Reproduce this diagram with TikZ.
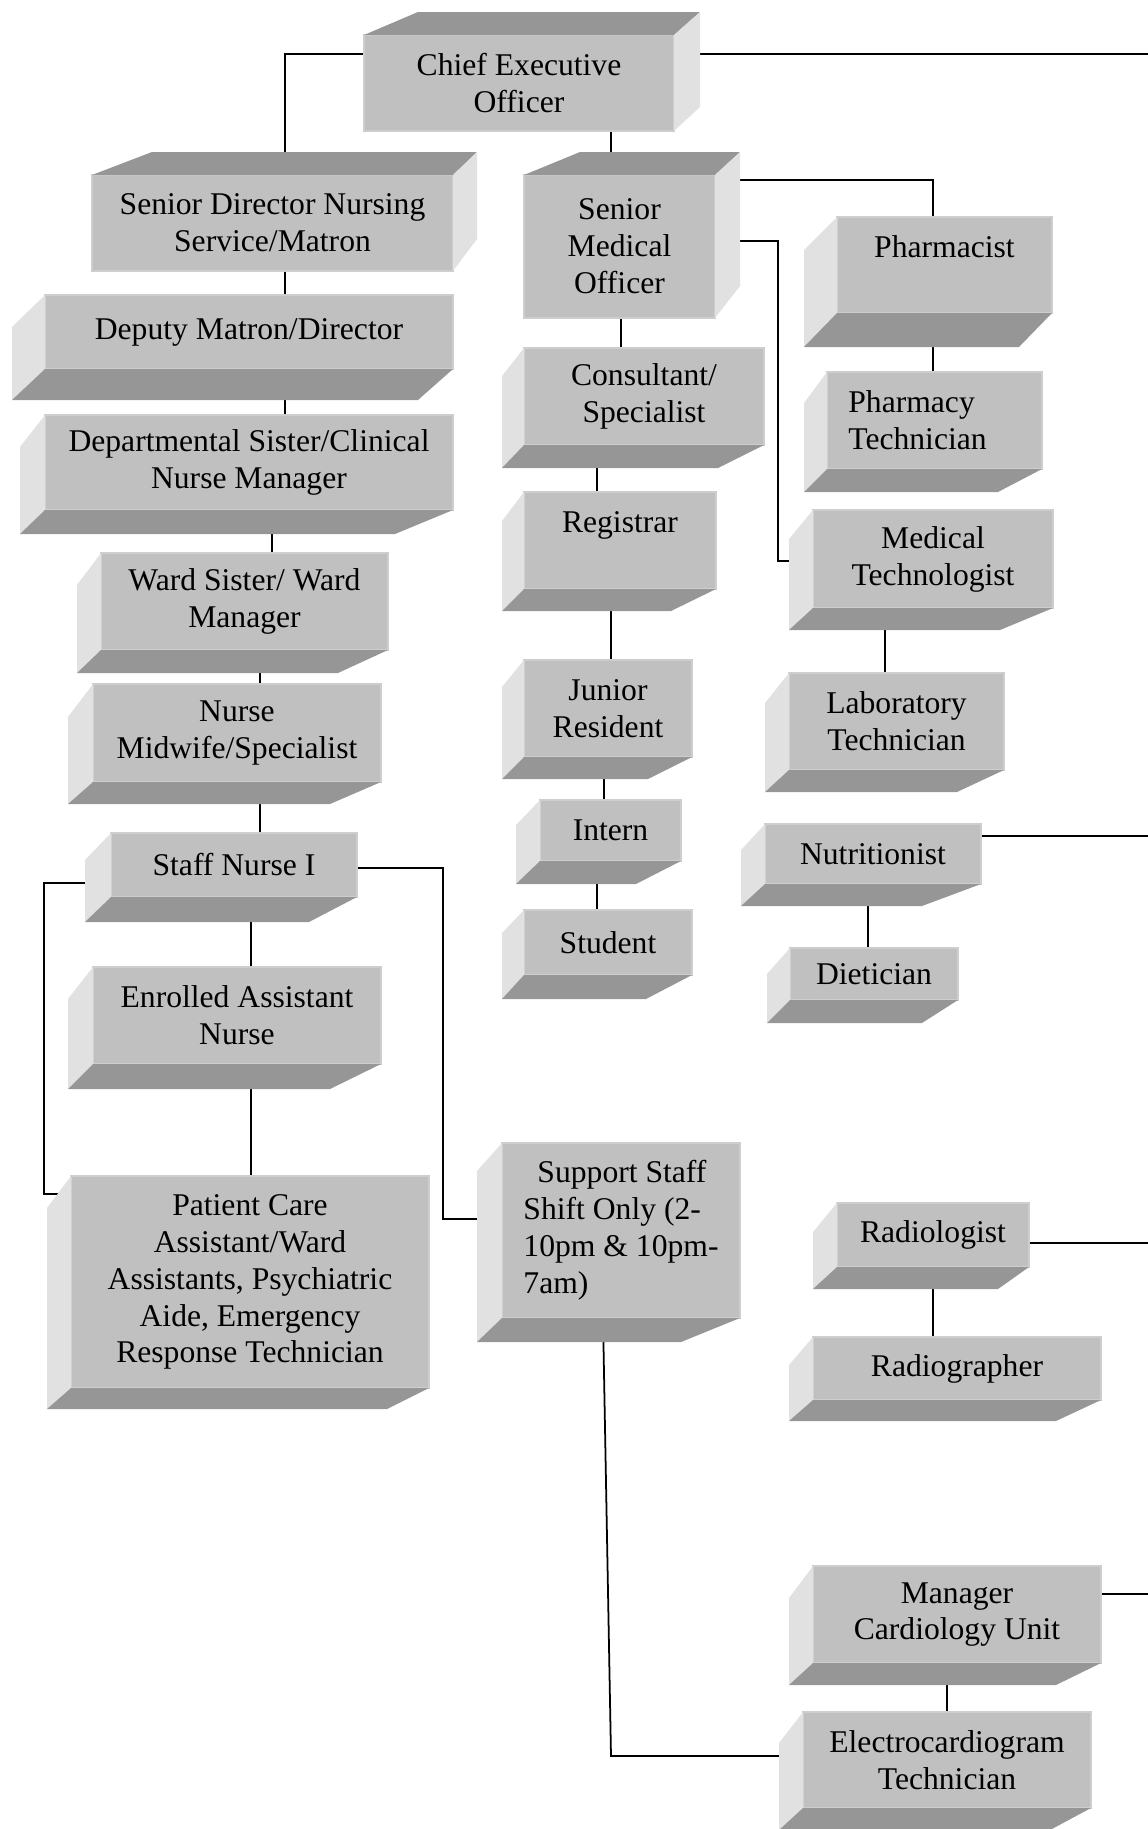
\documentclass[tikz,border=0pt]{standalone}
\usepackage{fontspec}
\setmainfont{Liberation Serif}
\usetikzlibrary{calc,backgrounds}

\definecolor{frontgray}{HTML}{C0C0C0}
\definecolor{frontedge}{HTML}{CECECE}
\definecolor{darkgray}{HTML}{969696}
\definecolor{sidegray}{HTML}{E1E1E1}

\tikzset{
  slab/.style 2 args={fill=frontgray, draw=frontedge, line width=0.6pt,
    minimum width={#1*0.02cm}, minimum height={#2*0.02cm},
    inner sep=0pt, outer sep=0pt, align=center,
    font=\fontsize{18}{21}\selectfont},
  wire/.style={line width=1pt, black},
  darkface/.style={fill=darkgray},
  sideface/.style={fill=sidegray}
}

%% faces seen below and on the left: node, dx left, dy top, dy bottom, dx right
\newcommand{\slabbl}[5]{%
  \fill[sideface] (#1.north west) -- ++(#2,#3) -- ($(#1.south west)+(#2,#4)$) -- (#1.south west) -- cycle;
  \fill[darkface] (#1.south west) -- ++(#2,#4) -- ($(#1.south east)+(#5,#4)$) -- (#1.south east) -- cycle;}
%% faces seen above and on the right
\newcommand{\slabtr}[5]{%
  \fill[darkface] (#1.north west) -- ++(#2,#3) -- ($(#1.north east)+(#5,#3)$) -- (#1.north east) -- cycle;
  \fill[sideface] (#1.north east) -- ++(#5,#3) -- ($(#1.south east)+(#5,#4)$) -- (#1.south east) -- cycle;}

\begin{document}
\begin{tikzpicture}[x=0.02cm, y=-0.02cm]
        \useasboundingbox (0,0) rectangle (1148,1829);
        %% Top
        \node[slab={310}{96}] (ceo) at (519,83) {Chief Executive\\Officer};
        \slabtr{ceo}{54}{-23}{-24}{26}
        \node[slab={361}{96}] (snd) at (272.5,223) {Senior Director Nursing\\Service/Matron};
        \slabtr{snd}{60}{-23}{-32}{24}
        \node[slab={191}{143}] (smo) at (619.5,246.5) {Senior\\Medical\\Officer};
        \slabtr{smo}{56}{-23}{-32}{25}
        %% Nursing
        \node[slab={408}{74}] (dep) at (249,332) {Deputy Matron/Director};
        \slabbl{dep}{-33}{32}{31}{-35}
        \node[slab={408}{95}] (dsc) at (249,462.5) {Departmental Sister/Clinical\\Nurse Manager};
        \slabbl{dsc}{-25}{32}{24}{-58}
        \node[slab={287}{97}] (ws) at (244.5,601.5) {Ward Sister/ Ward\\Manager};
        \slabbl{ws}{-24}{32}{23}{-50}
        \node[slab={288}{98}] (nm) at (237,733) {Nurse\\Midwife/Specialist};
        \slabbl{nm}{-25}{33}{22}{-51}
        \node[slab={246}{64}] (sn1) at (234,865) {Staff Nurse I};
        \slabbl{sn1}{-26}{27}{25}{-48}
        \node[slab={288}{97}] (ean) at (237,1015.5) {Enrolled Assistant\\Nurse};
        \slabbl{ean}{-25}{32}{25}{-51}
        \node[slab={358}{212}] (pca) at (250,1282) {Patient Care\\Assistant/Ward\\Assistants, Psychiatric\\Aide, Emergency\\Response Technician};
        \slabbl{pca}{-24}{32}{21}{-42}
        \node[slab={238}{175}, align=left] (sup) at (621,1230.5) {\hspace*{0.28cm}Support Staff\\Shift Only (2-\\10pm \& 10pm-\\7am)};
        \slabbl{sup}{-25}{28}{24}{-59}
        %% Medical
        \node[slab={240}{97}] (con) at (644,396.5) {Consultant/\\Specialist};
        \slabbl{con}{-22}{28}{23}{-46}
        \node[slab={192}{97}] (reg) at (620,540.5) {Registrar\\~};
        \slabbl{reg}{-22}{29}{22}{-45}
        \node[slab={168}{97}] (jr) at (608,708.5) {Junior\\Resident};
        \slabbl{jr}{-22}{27}{22}{-44}
        \node[slab={141}{61}] (int) at (610.5,830.5) {Intern};
        \slabbl{int}{-24}{25}{23}{-45}
        \node[slab={168}{65}] (stu) at (608,942.5) {Student};
        \slabbl{stu}{-22}{23}{24}{-46}
        %% Right column
        \node[slab={215}{96}] (pha) at (944.5,265) {Pharmacist\\~};
        \slabbl{pha}{-33}{33}{34}{-33}
        \node[slab={215}{97}, align=left] (pht) at (934.5,420.5) {Pharmacy\\Technician\hspace*{0.68cm}};
        \slabbl{pht}{-23}{31}{23}{-44}
        \node[slab={240}{98}] (mt) at (933,559) {Medical\\Technologist};
        \slabbl{mt}{-24}{29}{22}{-53}
        \node[slab={215}{97}] (lt) at (896.5,721.5) {Laboratory\\Technician};
        \slabbl{lt}{-24}{30}{22}{-47}
        \node[slab={216}{60}] (nut) at (873,854) {Nutritionist};
        \slabbl{nut}{-24}{26}{22}{-59}
        \node[slab={168}{52}] (die) at (874,974) {Dietician};
        \slabbl{die}{-23}{26}{23}{-36}
        \node[slab={192}{64}] (rad) at (933,1235) {Radiologist};
        \slabbl{rad}{-24}{29}{22}{-31}
        \node[slab={288}{63}] (rgr) at (957,1368.5) {Radiographer};
        \slabbl{rgr}{-24}{28}{21}{-45}
        \node[slab={288}{97}] (mcu) at (957,1614.5) {Manager\\Cardiology Unit};
        \slabbl{mcu}{-24}{32}{22}{-45}
        \node[slab={288}{96}] (ecg) at (947,1760) {Electrocardiogram\\Technician};
        \slabbl{ecg}{-24}{31}{22}{-41}
        %% Free ends at the right margin
        \coordinate (ceoR) at (1148,54);
        \coordinate (nutR) at (1148,836);
        \coordinate (radR) at (1148,1243);
        \coordinate (mcuR) at (1148,1594);
        %% Lines
        \begin{pgfonlayer}{background}
        \draw[wire] (ceo.west |- 0,54) -| (285,0 |- snd.north);
        \draw[wire] (ceo.east |- 0,54) -- (ceoR);
        \draw[wire] (611,0 |- ceo.south) -- (611,0 |- smo.north);
        \draw[wire] (285,0 |- snd.south) -- (285,0 |- dep.north);
        \draw[wire] (285,0 |- dep.south) -- (285,0 |- dsc.north);
        \draw[wire] (272,0 |- dsc.south) -- (272,0 |- ws.north);
        \draw[wire] (260,0 |- ws.south) -- (260,0 |- nm.north);
        \draw[wire] (260,0 |- nm.south) -- (260,0 |- sn1.north);
        \draw[wire] (251,0 |- sn1.south) -- (251,0 |- ean.north);
        \draw[wire] (251,0 |- ean.south) -- (251,0 |- pca.north);
        \draw[wire] (sn1.west |- 0,883) -- (44,883) -- (44,1194) -- (pca.west |- 0,1194);
        \draw[wire] (sn1.east |- 0,868) -- (443,868) -- (443,1219) -- (sup.west |- 0,1219);
        \draw[wire] (621,0 |- smo.south) -- (621,0 |- con.north);
        \draw[wire] (597,0 |- con.south) -- (597,0 |- reg.north);
        \draw[wire] (611,0 |- reg.south) -- (611,0 |- jr.north);
        \draw[wire] (604,0 |- jr.south) -- (604,0 |- int.north);
        \draw[wire] (597,0 |- int.south) -- (597,0 |- stu.north);
        \draw[wire] (smo.east |- 0,180) -| (933,0 |- pha.north);
        \draw[wire] (smo.east |- 0,241) -- (778,241) -- (778,561) -- (mt.west |- 0,561);
        \draw[wire] (933,0 |- pha.south) -- (933,0 |- pht.north);
        \draw[wire] (885,0 |- mt.south) -- (885,0 |- lt.north);
        \draw[wire] (nut.east |- 0,836) -- (nutR);
        \draw[wire] (868,0 |- nut.south) -- (868,0 |- die.north);
        \draw[wire] (rad.east |- 0,1243) -- (radR);
        \draw[wire] (933,0 |- rad.south) -- (933,0 |- rgr.north);
        \draw[wire] (mcu.east |- 0,1594) -- (mcuR);
        \draw[wire] (947,0 |- mcu.south) -- (947,0 |- ecg.north);
        \draw[wire] (603,0 |- sup.south) -- (611,1756) -- (ecg.west |- 0,1756);
        \end{pgfonlayer}
\end{tikzpicture}
\end{document}
